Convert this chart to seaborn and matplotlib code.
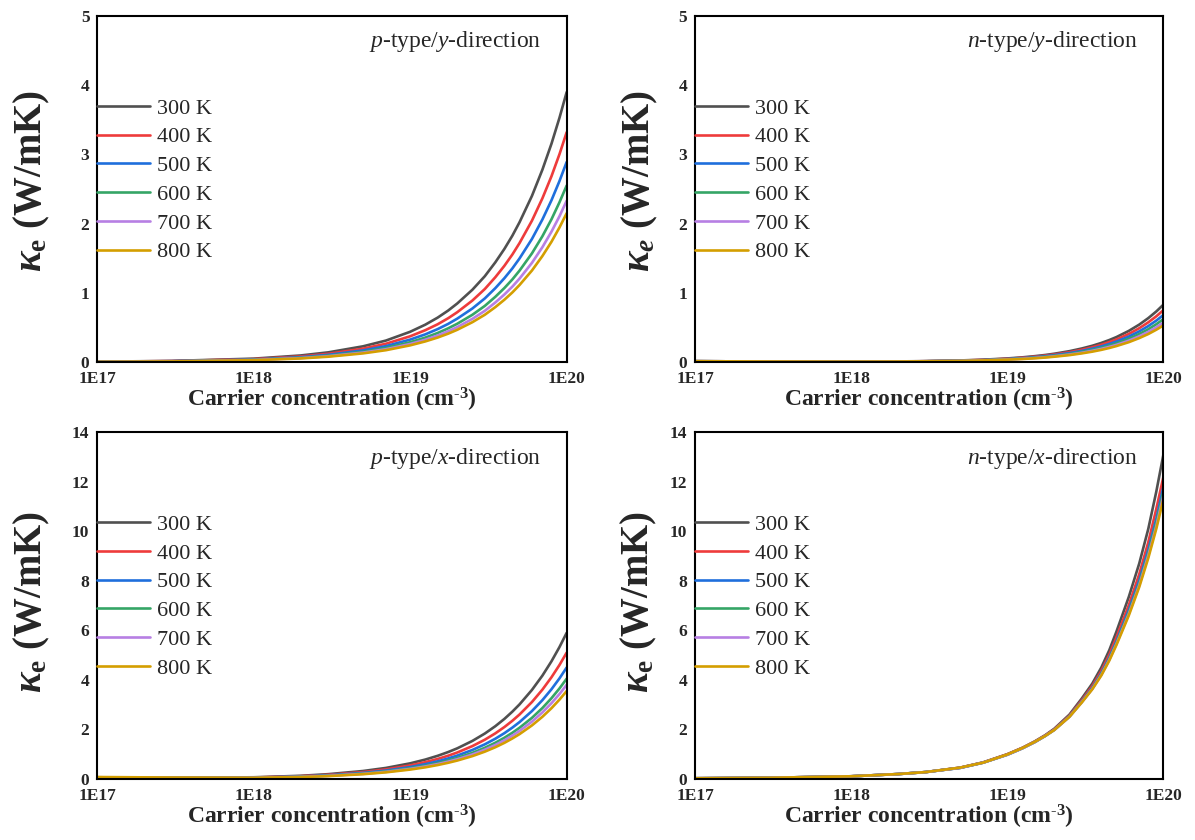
import numpy as np
import pandas as pd
import matplotlib
matplotlib.use("Agg")
import matplotlib.pyplot as plt
import seaborn as sns
from matplotlib.ticker import FixedLocator, LogLocator, MultipleLocator, NullFormatter

# carrier concentration (cm^-3) sample points
conc = [1e17, 3e17, 1e18, 2e18, 3e18, 5e18, 7e18, 1e19, 1.25e19, 1.5e19, 1.75e19, 2e19,
        2.5e19, 3e19, 3.5e19, 4e19, 4.5e19, 5e19, 6e19, 7e19, 8e19, 9e19, 1e20]

temps = ["300 K", "400 K", "500 K", "600 K", "700 K", "800 K"]
colors = ["#505050", "#ee3b3b", "#1f6fdc", "#35a566", "#b77fe3", "#d49e00"]

# p-type / y-direction
p_y = [
    [0.005, 0.016, 0.049, 0.095, 0.14, 0.227, 0.31, 0.437, 0.54, 0.642, 0.744, 0.846, 1.045, 1.24, 1.44, 1.634, 1.826, 2.02, 2.40, 2.78, 3.155, 3.53, 3.90],
    [0.005, 0.014, 0.042, 0.081, 0.119, 0.193, 0.264, 0.372, 0.46, 0.546, 0.633, 0.72, 0.889, 1.055, 1.225, 1.39, 1.554, 1.719, 2.042, 2.366, 2.685, 3.004, 3.32],
    [0.004, 0.012, 0.036, 0.070, 0.104, 0.168, 0.23, 0.324, 0.40, 0.476, 0.551, 0.627, 0.774, 0.919, 1.067, 1.211, 1.353, 1.497, 1.778, 2.06, 2.338, 2.616, 2.89],
    [0.004, 0.010, 0.032, 0.062, 0.092, 0.148, 0.203, 0.286, 0.353, 0.42, 0.487, 0.553, 0.683, 0.811, 0.942, 1.069, 1.194, 1.321, 1.57, 1.818, 2.063, 2.309, 2.55],
    [0.003, 0.009, 0.029, 0.057, 0.084, 0.136, 0.185, 0.261, 0.322, 0.383, 0.444, 0.505, 0.624, 0.74, 0.86, 0.976, 1.09, 1.206, 1.433, 1.66, 1.884, 2.107, 2.33],
    [0.003, 0.009, 0.027, 0.052, 0.077, 0.125, 0.171, 0.241, 0.298, 0.354, 0.41, 0.466, 0.576, 0.683, 0.793, 0.90, 1.006, 1.113, 1.322, 1.532, 1.738, 1.945, 2.15],
]

# n-type / y-direction
n_y = [
    [0.012, 0.008, 0.006, 0.009, 0.013, 0.023, 0.034, 0.052, 0.068, 0.085, 0.102, 0.12, 0.157, 0.196, 0.235, 0.276, 0.318, 0.361, 0.45, 0.541, 0.635, 0.731, 0.83],
    [0.012, 0.008, 0.006, 0.008, 0.012, 0.021, 0.031, 0.047, 0.062, 0.077, 0.093, 0.109, 0.142, 0.177, 0.213, 0.25, 0.288, 0.326, 0.406, 0.489, 0.574, 0.661, 0.75],
    [0.012, 0.008, 0.006, 0.008, 0.011, 0.019, 0.028, 0.043, 0.056, 0.070, 0.084, 0.099, 0.129, 0.16, 0.193, 0.226, 0.261, 0.296, 0.368, 0.443, 0.52, 0.599, 0.68],
    [0.012, 0.008, 0.006, 0.008, 0.011, 0.018, 0.026, 0.040, 0.051, 0.064, 0.077, 0.09, 0.117, 0.146, 0.176, 0.206, 0.238, 0.27, 0.336, 0.404, 0.474, 0.546, 0.62],
    [0.012, 0.008, 0.006, 0.008, 0.011, 0.017, 0.024, 0.037, 0.047, 0.059, 0.070, 0.083, 0.108, 0.134, 0.162, 0.19, 0.219, 0.248, 0.309, 0.372, 0.436, 0.502, 0.57],
    [0.012, 0.008, 0.006, 0.008, 0.011, 0.016, 0.023, 0.035, 0.044, 0.054, 0.065, 0.077, 0.10, 0.125, 0.15, 0.176, 0.203, 0.231, 0.287, 0.346, 0.405, 0.467, 0.53],
]

# p-type / x-direction
p_x = [
    [0.07, 0.05, 0.07, 0.13, 0.196, 0.323, 0.447, 0.632, 0.785, 0.937, 1.088, 1.238, 1.538, 1.835, 2.131, 2.425, 2.72, 3.012, 3.595, 4.174, 4.752, 5.327, 5.90],
    [0.06, 0.05, 0.06, 0.115, 0.17, 0.279, 0.387, 0.547, 0.679, 0.81, 0.94, 1.07, 1.329, 1.586, 1.842, 2.097, 2.351, 2.604, 3.107, 3.608, 4.108, 4.604, 5.10],
    [0.06, 0.05, 0.055, 0.101, 0.15, 0.246, 0.341, 0.482, 0.599, 0.715, 0.83, 0.945, 1.173, 1.40, 1.625, 1.85, 2.075, 2.297, 2.742, 3.184, 3.624, 4.063, 4.50],
    [0.06, 0.05, 0.05, 0.091, 0.135, 0.222, 0.307, 0.434, 0.539, 0.643, 0.747, 0.85, 1.055, 1.26, 1.463, 1.665, 1.867, 2.068, 2.468, 2.865, 3.262, 3.656, 4.05],
    [0.07, 0.05, 0.05, 0.086, 0.127, 0.208, 0.288, 0.407, 0.506, 0.603, 0.701, 0.798, 0.99, 1.182, 1.373, 1.562, 1.752, 1.94, 2.315, 2.689, 3.061, 3.431, 3.80],
    [0.08, 0.06, 0.05, 0.08, 0.118, 0.194, 0.269, 0.381, 0.472, 0.564, 0.655, 0.745, 0.925, 1.104, 1.282, 1.459, 1.637, 1.812, 2.163, 2.512, 2.859, 3.205, 3.55],
]

# n-type / x-direction
n_x = [
    [0.03, 0.05, 0.11, 0.20, 0.28, 0.46, 0.67, 1.00, 1.26, 1.52, 1.77, 2.03, 2.60, 3.25, 3.85, 4.50, 5.20, 5.95, 7.35, 8.70, 10.1, 11.6, 13.1],
    [0.03, 0.05, 0.11, 0.20, 0.28, 0.46, 0.67, 1.00, 1.26, 1.51, 1.76, 2.01, 2.56, 3.18, 3.75, 4.36, 5.02, 5.72, 7.02, 8.27, 9.56, 10.9, 12.2],
    [0.03, 0.05, 0.11, 0.20, 0.28, 0.45, 0.66, 0.98, 1.24, 1.49, 1.74, 1.99, 2.53, 3.13, 3.68, 4.27, 4.90, 5.56, 6.82, 8.02, 9.26, 10.5, 11.8],
    [0.03, 0.05, 0.11, 0.20, 0.28, 0.45, 0.66, 0.98, 1.24, 1.49, 1.74, 1.98, 2.52, 3.11, 3.65, 4.23, 4.85, 5.50, 6.73, 7.90, 9.12, 10.35, 11.6],
    [0.03, 0.05, 0.11, 0.20, 0.28, 0.45, 0.66, 0.98, 1.24, 1.49, 1.74, 1.98, 2.51, 3.10, 3.63, 4.20, 4.81, 5.45, 6.66, 7.82, 9.02, 10.2, 11.45],
    [0.03, 0.05, 0.11, 0.20, 0.28, 0.46, 0.66, 0.99, 1.25, 1.50, 1.74, 1.98, 2.51, 3.09, 3.62, 4.18, 4.78, 5.41, 6.60, 7.75, 8.92, 10.1, 11.3],
]

sns.set_style("white")
plt.rcParams["font.family"] = ["Liberation Serif", "DejaVu Serif"]
plt.rcParams["mathtext.fontset"] = "custom"
plt.rcParams["mathtext.rm"] = "Liberation Serif"
plt.rcParams["mathtext.it"] = "Liberation Serif:italic"
plt.rcParams["mathtext.bf"] = "Liberation Serif:bold"
plt.rcParams["mathtext.bfit"] = "Liberation Serif:italic:bold"

fig = plt.figure(figsize=(11.95, 8.4), dpi=100)

kappa_up = r"$\mathbfit{\kappa}_{\mathbf{e}}$ (W/mK)"
kappa_it = r"$\mathbfit{\kappa}_{\mathbfit{e}}$ (W/mK)"

# data, axes rect, ymax, ystep, annotation, ylabel, ylabel position
panels = [
    (p_y, [0.0812, 0.569, 0.393, 0.412], 5, 1, r"$p$-type/$y$-direction", kappa_up, (-0.095, 0.523)),
    (n_y, [0.5816, 0.569, 0.392, 0.412], 5, 1, r"$n$-type/$y$-direction", kappa_it, (-0.074, 0.523)),
    (p_x, [0.0812, 0.0726, 0.393, 0.413], 14, 2, r"$p$-type/$x$-direction", kappa_up, (-0.095, 0.51)),
    (n_x, [0.5816, 0.0726, 0.392, 0.413], 14, 2, r"$n$-type/$x$-direction", kappa_up, (-0.077, 0.51)),
]

for data, rect, ymax, ystep, title, ylab, ypos in panels:
    ax = fig.add_axes(rect)
    for vals, lab, col in zip(data, temps, colors):
        sns.lineplot(x=conc, y=vals, color=col, label=lab, linewidth=1.9, ax=ax)
    ax.set_xscale("log")
    ax.set_xlim(1e17, 1e20)
    ax.set_ylim(0, ymax)
    ax.xaxis.set_major_locator(FixedLocator([1e17, 1e18, 1e19, 1e20]))
    ax.set_xticklabels(["1E17", "1E18", "1E19", "1E20"])
    ax.xaxis.set_minor_locator(LogLocator(base=10, subs=np.arange(2, 10)))
    ax.xaxis.set_minor_formatter(NullFormatter())
    ax.yaxis.set_major_locator(MultipleLocator(ystep))
    ax.yaxis.set_minor_locator(MultipleLocator(ystep / 2))
    ax.tick_params(which="both", direction="in", width=1.2, top=False, right=False)
    ax.tick_params(which="major", length=5, labelsize=12.5)
    ax.tick_params(axis="x", which="major", pad=6.5)
    ax.tick_params(axis="y", which="major", pad=5.5)
    ax.tick_params(which="minor", length=3)
    for t in ax.get_xticklabels() + ax.get_yticklabels():
        t.set_fontweight("bold")
    for s in ax.spines.values():
        s.set_linewidth(1.5)
        s.set_color("black")
    ax.set_xlabel(r"Carrier concentration (cm$^{\text{-}\mathbf{3}}$)", fontsize=17, fontweight="bold", labelpad=-1)
    ax.set_ylabel(ylab, fontsize=28, fontweight="bold")
    ax.yaxis.set_label_coords(*ypos)
    ax.text(0.945, 0.925, title, transform=ax.transAxes, ha="right", va="center", fontsize=17)
    ax.legend(loc="upper left", bbox_to_anchor=(0.0, 0.763), frameon=False, fontsize=16,
              handlelength=2.4, handletextpad=0.3, labelspacing=0.37, borderpad=0, borderaxespad=0)

fig.savefig("out.png", dpi=100)
